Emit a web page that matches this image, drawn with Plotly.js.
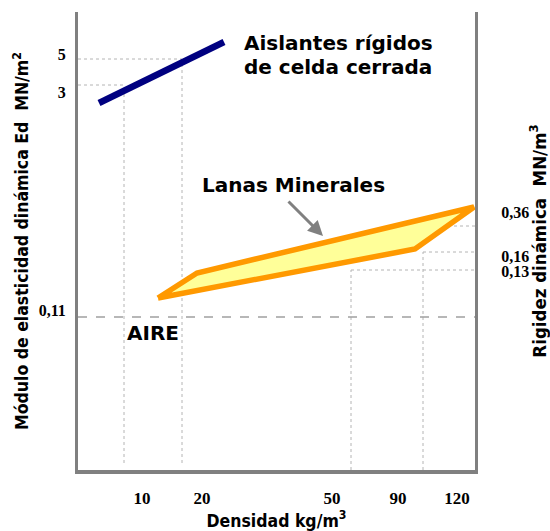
<!DOCTYPE html>
<html>
<head>
<meta charset="utf-8">
<script src="https://cdn.plot.ly/plotly-3.0.1.min.js"></script>
<style>html,body{margin:0;padding:0;background:#fff;}#chart{width:550px;height:531px;}</style>
</head>
<body>
<div id="chart"></div>
<script>
// Schematic chart: axes are drawn in schematic units (not to scale)
const insulatorX = [21, 146];
const insulatorY = [367, 428];

const woolX = [80, 119, 396, 337, 80];
const woolY = [172, 197, 263, 221, 172];

const densityTickVals = [64, 124, 254, 320, 379];
const densityTickText = ['10', '20', '50', '90', '120'];

const modulusTickVals = [416, 378, 160];
const modulusTickText = ['5', '3', '0,11'];

const stiffnessTickVals = [258, 214, 199];
const stiffnessTickText = ['0,36', '0,16', '0,13'];

// reference guide lines (schematic units)
const guideVertical = [
  {x: 46, y0: 7, y1: 385},
  {x: 104, y0: 7, y1: 411},
  {x: 273, y0: 0, y1: 200},
  {x: 345, y0: 0, y1: 218}
];
const guideHorizontal = [
  {y: 411, x0: 0, x1: 104},
  {y: 385, x0: 0, x1: 46},
  {y: 244, x0: 370, x1: 402},
  {y: 218, x0: 345, x1: 402},
  {y: 200, x0: 273, x1: 402}
];
const airLevel = 153;

const shapes = [];
guideVertical.forEach(g => shapes.push({type: 'line', xref: 'x', yref: 'y', x0: g.x, x1: g.x, y0: g.y0, y1: g.y1,
  line: {color: '#b4b4b4', width: 1, dash: 'dot'}, layer: 'below'}));
guideHorizontal.forEach(g => shapes.push({type: 'line', xref: 'x', yref: 'y', x0: g.x0, x1: g.x1, y0: g.y, y1: g.y,
  line: {color: '#b4b4b4', width: 1, dash: 'dot'}, layer: 'below'}));
shapes.push({type: 'line', xref: 'x', yref: 'y', x0: 0, x1: 397, y0: airLevel, y1: airLevel,
  line: {color: '#a0a0a0', width: 1.3, dash: 'dash'}, layer: 'below'});

const traces = [
  {x: woolX, y: woolY, mode: 'lines', fill: 'toself', fillcolor: '#ffff99',
   line: {color: '#ff9900', width: 5.5}, hoverinfo: 'skip', showlegend: false},
  {x: insulatorX, y: insulatorY, mode: 'lines',
   line: {color: '#000080', width: 6.5}, hoverinfo: 'skip', showlegend: false},
  {x: [0], y: [0], yaxis: 'y2', mode: 'markers', marker: {opacity: 0}, hoverinfo: 'skip', showlegend: false}
];

const annFont = {family: 'DejaVu Sans', size: 20, color: '#000', weight: 'bold'};
const titleFont = {family: 'DejaVu Sans Condensed', size: 17.5, color: '#000', weight: 'bold'};
const layout = {
  width: 550, height: 531,
  margin: {l: 78, r: 75, t: 12, b: 61},
  paper_bgcolor: '#fff', plot_bgcolor: '#fff',
  showlegend: false,
  xaxis: {
    range: [0, 397], showgrid: false, zeroline: false,
    showline: true, linecolor: '#808080', linewidth: 4,
    tickmode: 'array', tickvals: densityTickVals, ticktext: densityTickText,
    ticks: '', ticklabelstandoff: 10,
    tickfont: {family: 'Liberation Serif', size: 17, color: '#000', weight: 'bold'},
    title: {text: 'Densidad kg/m<sup>3</sup>', standoff: 4, font: titleFont},
    fixedrange: true
  },
  yaxis: {
    range: [0, 458], showgrid: false, zeroline: false,
    showline: true, linecolor: '#808080', linewidth: 3,
    tickmode: 'array', tickvals: modulusTickVals, ticktext: modulusTickText,
    ticks: '', ticklabelstandoff: 6,
    tickfont: {family: 'Liberation Serif', size: 16, color: '#000', weight: 'bold'},
    title: {text: 'Módulo de elasticidad dinámica Ed  MN/m<sup>2</sup>', standoff: 6, font: titleFont},
    fixedrange: true
  },
  yaxis2: {
    overlaying: 'y', side: 'right', anchor: 'x',
    range: [0, 458], showgrid: false, zeroline: false,
    showline: true, linecolor: '#808080', linewidth: 3,
    tickmode: 'array', tickvals: stiffnessTickVals, ticktext: stiffnessTickText,
    ticks: '', ticklabelstandoff: 20,
    tickfont: {family: 'Liberation Serif', size: 16, color: '#000', weight: 'bold'},
    title: {text: 'Rigidez dinámica  MN/m<sup>3</sup>', standoff: 4,
      font: {family: 'DejaVu Sans Condensed', size: 18.5, color: '#000', weight: 'bold'}},
    fixedrange: true
  },
  shapes: shapes,
  annotations: [
    {x: 260, y: 427, xref: 'x', yref: 'y', text: 'Aislantes rígidos', showarrow: false, font: annFont},
    {x: 260, y: 403, xref: 'x', yref: 'y', text: 'de celda cerrada', showarrow: false, font: annFont},
    {x: 215, y: 285, xref: 'x', yref: 'y', text: 'Lanas Minerales', showarrow: false, font: annFont},
    {x: 75, y: 137, xref: 'x', yref: 'y', text: 'AIRE', showarrow: false, font: annFont},
    {x: 245, y: 234, xref: 'x', yref: 'y', text: '', showarrow: true, ax: -36, ay: -36,
     arrowcolor: '#808080', arrowwidth: 3, arrowhead: 2, arrowsize: 1}
  ]
};

Plotly.newPlot('chart', traces, layout, {displayModeBar: false, staticPlot: true});
</script>
</body>
</html>
